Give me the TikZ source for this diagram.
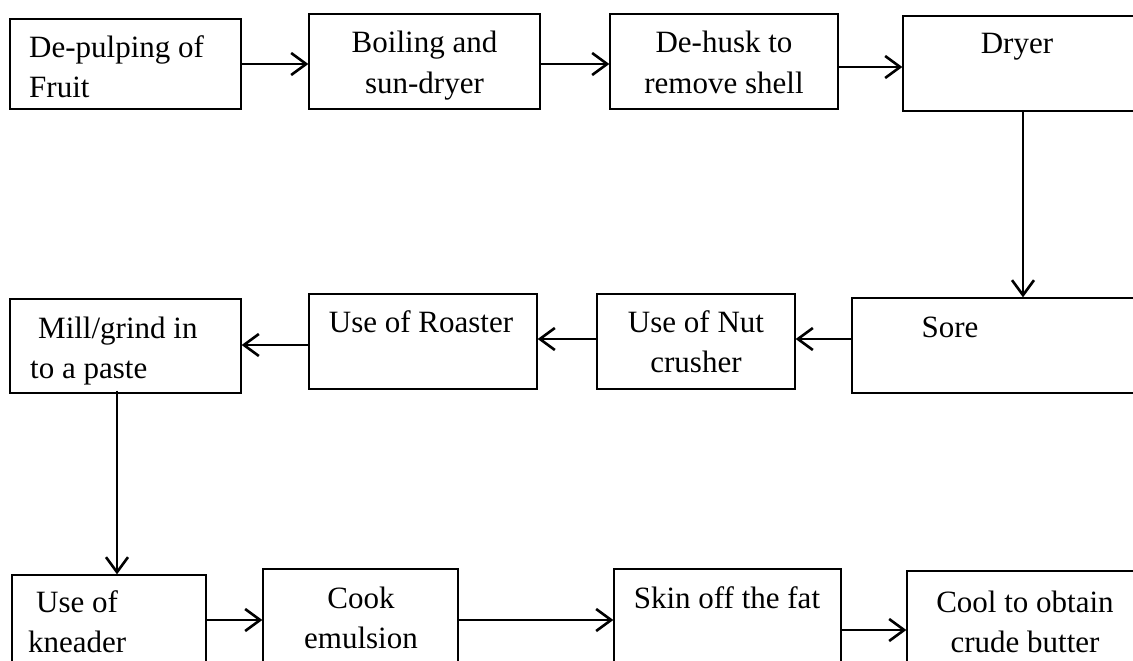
\documentclass[tikz,border=0pt]{standalone}
\usepackage{fontspec}
\setmainfont{Liberation Serif}
\usetikzlibrary{arrows.meta}
% multi-line label whose baseline is that of its first line
\newcommand{\stk}[2]{\begin{tabular}[t]{@{}#1@{}}#2\end{tabular}}
\begin{document}
\begin{tikzpicture}[x=1pt,y=-1pt,
  box/.style={draw, line width=1.3pt, rectangle, inner sep=0pt},
  flow/.style={line width=2.6pt, -{Straight Barb[length=15pt,width=22pt]}},
  lbl/.style={inner sep=0pt, font=\fontsize{31}{40}\selectfont},
  lblc/.style={lbl, anchor=base},
  lbll/.style={lbl, anchor=base west}]
\clip (0,0) rectangle (1133,661);
\fill[white] (0,0) rectangle (1133,661);

% first row
\node[box, minimum width=231pt, minimum height=90pt] (pulp)  at (125.5,64) {};
\node[box, minimum width=231pt, minimum height=95pt] (boil)  at (424.5,61.5) {};
\node[box, minimum width=228pt, minimum height=95pt] (husk)  at (724,61.5) {};
\node[box, minimum width=242pt, minimum height=95pt] (dryer) at (1024,63.5) {};

\node[lbll] (tpulp)  at (29,58)   {\stk{l}{De-pulping of\\Fruit}};
\node[lblc] (tboil)  at (424.5,53) {\stk{c}{Boiling and\\sun-dryer}};
\node[lblc] (thusk)  at (724,53)  {\stk{c}{De-husk to\\remove shell}};
\node[lblc] (tdryer) at (1017,54) {Dryer};

% second row
\node[box, minimum width=231pt, minimum height=94pt] (mill)  at (125.5,346) {};
\node[box, minimum width=228pt, minimum height=95pt] (roast) at (423,341.5) {};
\node[box, minimum width=198pt, minimum height=95pt] (nut)   at (696,341.5) {};
\node[box, minimum width=293pt, minimum height=95pt] (sore)  at (998.5,345.5) {};

\node[lbll] (tmill)  at (30,338)  {\stk{l}{\hspace*{8pt}Mill/grind in\\to a paste}};
\node[lblc] (troast) at (421,332) {Use of Roaster};
\node[lblc] (tnut)   at (696,332) {\stk{c}{Use of Nut\\crusher}};
\node[lblc] (tsore)  at (950,337) {Sore};

% third row (runs off the lower edge)
\node[box, minimum width=194pt, minimum height=90pt]  (knead) at (109,620) {};
\node[box, minimum width=195pt, minimum height=102pt] (cook)  at (360.5,620) {};
\node[box, minimum width=227pt, minimum height=112pt] (skin)  at (727.5,625) {};
\node[box, minimum width=238pt, minimum height=118pt] (cool)  at (1026,630) {};

\node[lbll] (tknead) at (28,612)  {\stk{l}{\hspace*{8pt}Use of\\kneader}};
\node[lblc] (tcook)  at (361,608) {\stk{c}{Cook\\emulsion}};
\node[lblc] (tskin)  at (727,608) {Skin off the fat};
\node[lblc] (tcool)  at (1025,612) {\stk{c}{Cool to obtain\\crude butter}};

% connectors
\draw[flow] (pulp.east) -- (pulp.east -| boil.west);
\draw[flow] ([yshift=-2.5pt]boil.east) -- ([yshift=-2.5pt]boil.east -| husk.west);
\draw[flow] ([yshift=-5.5pt]husk.east) -- ([yshift=-5.5pt]husk.east -| dryer.west);
\draw[flow] ([xshift=-1pt]dryer.south) -- ([xshift=-1pt]dryer.south |- sore.north);
\draw[flow] ([yshift=6.5pt]sore.west) -- ([yshift=6.5pt]sore.west -| nut.east);
\draw[flow] ([yshift=2.5pt]nut.west) -- ([yshift=2.5pt]nut.west -| roast.east);
\draw[flow] ([yshift=-3.5pt]roast.west) -- ([yshift=-3.5pt]roast.west -| mill.east);
\draw[flow] ([xshift=-8.5pt,yshift=3pt]mill.south) -- ([xshift=-8.5pt]mill.south |- knead.north);
\draw[flow] (knead.east) -- (knead.east -| cook.west);
\draw[flow] (cook.east) -- (cook.east -| skin.west);
\draw[flow] ([yshift=-5pt]skin.east) -- ([yshift=-5pt]skin.east -| cool.west);
\end{tikzpicture}
\end{document}
